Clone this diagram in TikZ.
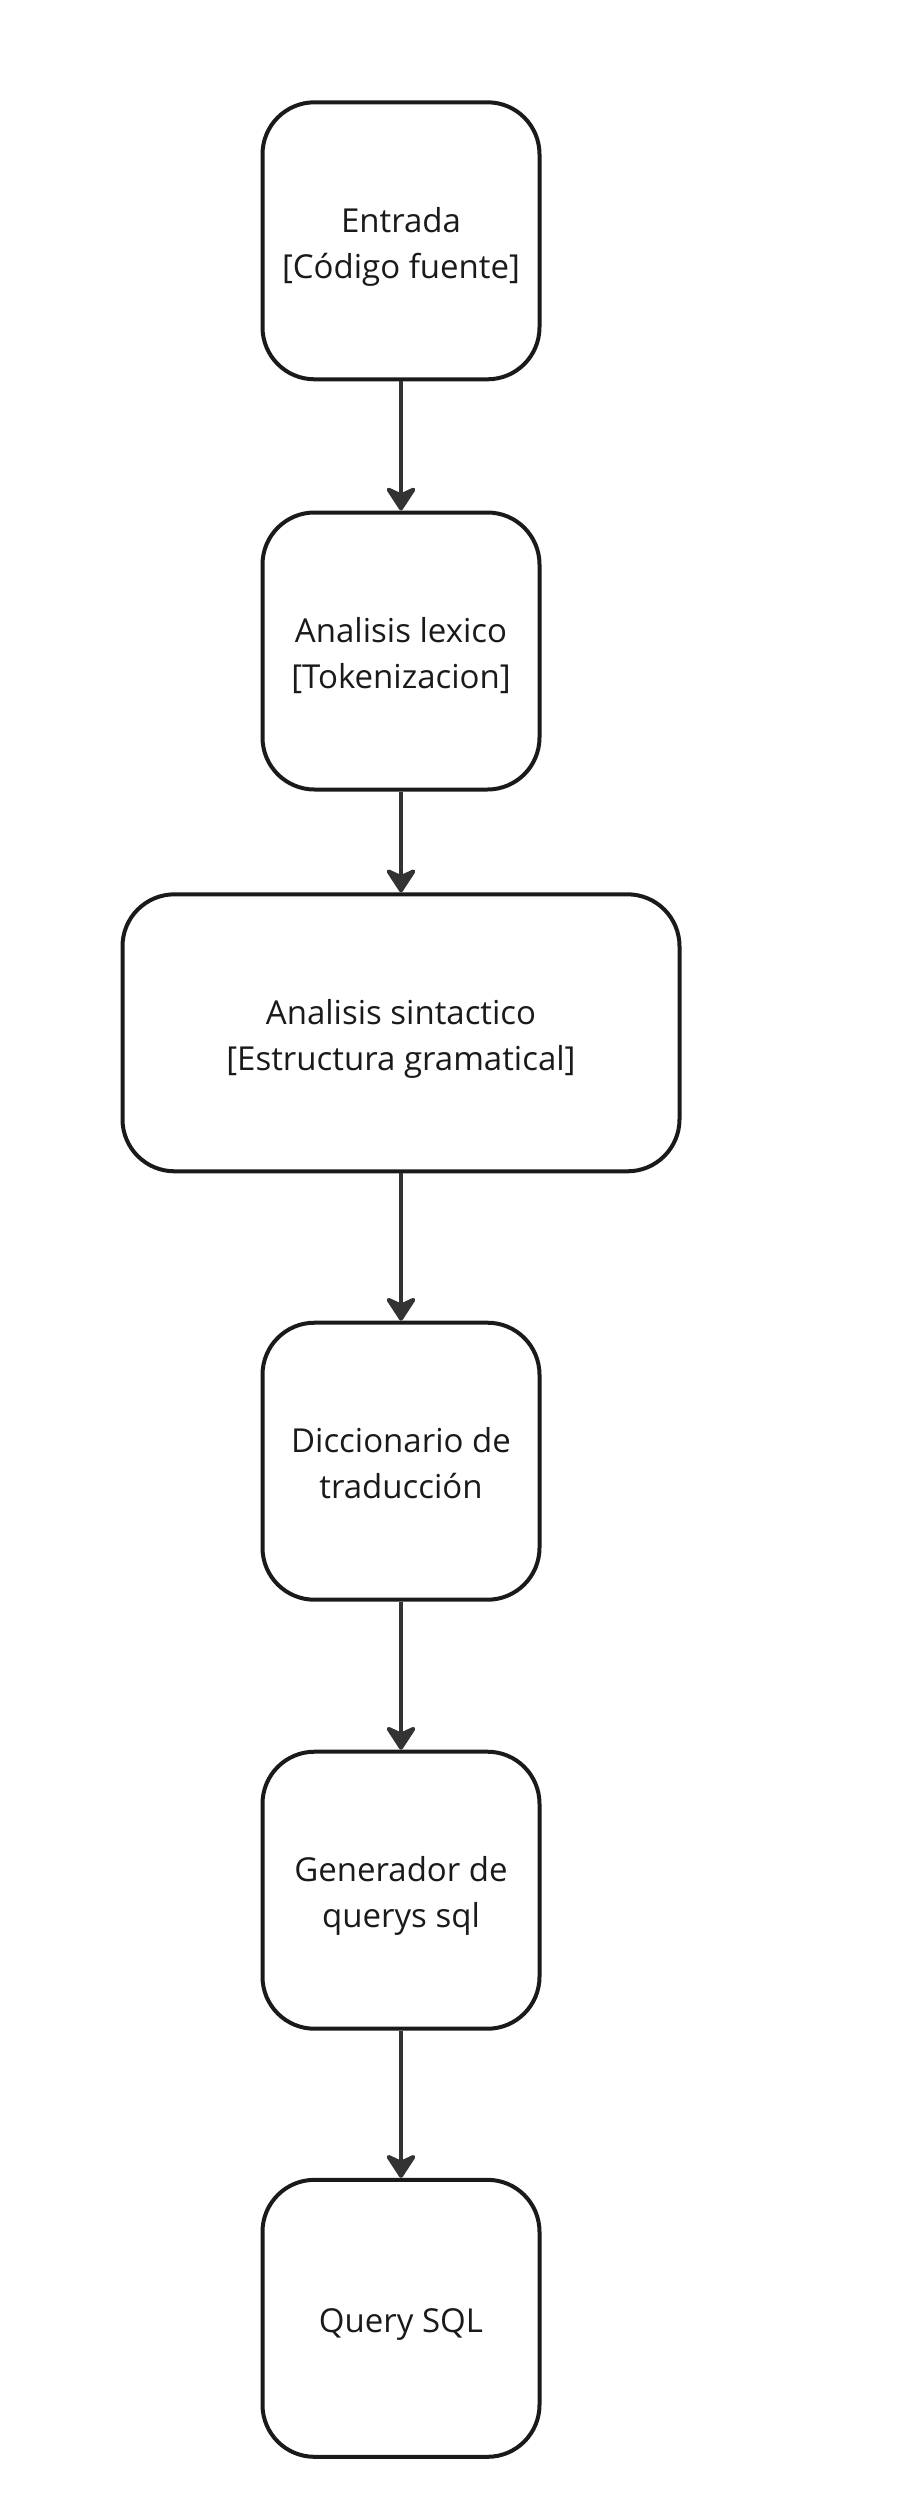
\documentclass[tikz,border=0pt]{standalone}
\usepackage{fontspec}
\setmainfont{Open Sans}
\usetikzlibrary{positioning,arrows.meta}
\definecolor{boxline}{HTML}{1A1A1A}
\definecolor{flowline}{HTML}{333333}
% texto centrado, un poco mas abajo
\newcommand{\rotulo}[1]{\raisebox{-5pt}[\height][\depth]{\begin{tabular}{@{}c@{}}#1\end{tabular}}}
\tikzset{
    etapa/.style={draw=boxline, line width=4pt, rounded corners=52pt, minimum width=277pt, minimum height=277pt,
        text=boxline, font=\fontsize{33}{46}\selectfont},
    flujo/.style={-{Stealth[length=27pt, width=35pt, inset=8pt, round]}, line width=4pt, draw=flowline, fill=flowline}
}
\begin{document}
\begin{tikzpicture}[x=1pt, y=1pt]
        \useasboundingbox (0,0) rectangle (901,-2497);
        \node[etapa] (entrada) at (401,-240.8) {\rotulo{Entrada\\\relax[Código fuente]}};
        \node[etapa] (lexico) at (401,-651) {\rotulo{Analisis lexico\\\relax[Tokenizacion]}};
        \node[etapa, minimum width=557pt] (sintactico) at (401,-1032.8) {\rotulo{Analisis sintactico\\\relax[Estructura gramatical]}};
        \node[etapa] (diccionario) at (401,-1461.2) {\rotulo{Diccionario de\\traducción}};
        \node[etapa] (generador) at (401,-1890.2) {\rotulo{Generador de\\querys sql}};
        \node[etapa] (query) at (401,-2318.3) {\rotulo{Query SQL}};
        \draw[flujo] (entrada) -- (lexico);
        \draw[flujo] (lexico) -- (sintactico);
        \draw[flujo] (sintactico) -- (diccionario);
        \draw[flujo] (diccionario) -- (generador);
        \draw[flujo] (generador) -- (query);
        \end{tikzpicture}
\end{document}
